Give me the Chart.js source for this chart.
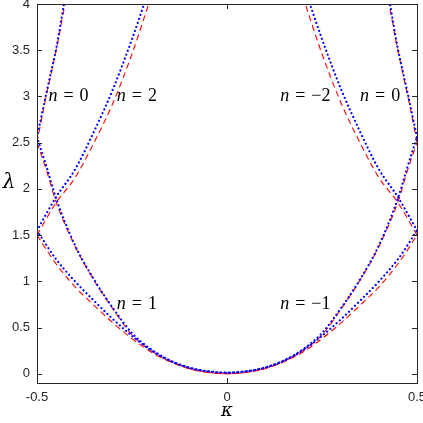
<!DOCTYPE html>
<html><head><meta charset="utf-8">
<script src="https://cdn.jsdelivr.net/npm/chart.js@4/dist/chart.umd.min.js"></script>
<style>html,body{margin:0;padding:0;background:#fff}#wrap{width:423px;height:423px}</style>
</head><body><div id="wrap"><canvas id="c" width="423" height="423"></canvas></div>
<script>
// ---- data ----
const kGrid = [-0.5,-0.475,-0.45,-0.4,-0.35,-0.3,-0.25,-0.2,-0.15,-0.1,-0.05,0,0.05,0.1,0.15,0.2,0.25,0.3,0.35,0.4,0.45,0.475,0.5];
const redLow  = [1.5,1.34,1.19,0.94,0.74,0.55,0.38,0.235,0.13,0.055,0.014,0,0.014,0.055,0.13,0.235,0.38,0.55,0.74,0.94,1.19,1.34,1.5];
const redUp   = [2.5,2.2,1.86,1.38,1.01,0.7,0.42,0.25,0.135,0.058,0.015,0,0.015,0.058,0.135,0.25,0.42,0.7,1.01,1.38,1.86,2.2,2.5];
const blueLow = [1.55,1.39,1.24,1.0,0.79,0.59,0.41,0.255,0.14,0.065,0.025,0.012,0.025,0.065,0.14,0.255,0.41,0.59,0.79,1.0,1.24,1.39,1.55];
const blueUp  = [2.56,2.24,1.9,1.39,1.02,0.71,0.44,0.265,0.145,0.068,0.027,0.012,0.027,0.068,0.145,0.265,0.44,0.71,1.02,1.39,1.9,2.24,2.56];

const kRedN2L = [-0.5,-0.45,-0.4,-0.35,-0.3,-0.25,-0.206];
const lRedN2L = [1.5,1.85,2.12,2.5,2.93,3.46,4.0];
const kRedN2R = [0.5,0.45,0.4,0.35,0.3,0.25,0.206];
const lRedN2R = [1.5,1.85,2.12,2.5,2.93,3.46,4.0];
const kBlueN2L = [-0.5,-0.45,-0.4,-0.35,-0.3,-0.25,-0.218];
const lBlueN2L = [1.55,1.91,2.21,2.62,3.08,3.62,4.0];
const kBlueN2R = [0.5,0.45,0.4,0.35,0.3,0.25,0.218];
const lBlueN2R = [1.55,1.91,2.21,2.62,3.08,3.62,4.0];

const kRedN0L = [-0.5,-0.483,-0.466,-0.448,-0.431,-0.426];
const lRedN0L = [2.5,2.86,3.19,3.53,3.9,4.0];
const kRedN0R = [0.5,0.483,0.466,0.448,0.431,0.426];
const lRedN0R = [2.5,2.86,3.19,3.53,3.9,4.0];
const kBlueN0L = [-0.5,-0.483,-0.466,-0.448,-0.429];
const lBlueN0L = [2.56,2.89,3.21,3.55,4.0];
const kBlueN0R = [0.5,0.483,0.466,0.448,0.429];
const lBlueN0R = [2.56,2.89,3.21,3.55,4.0];

const xTicks = [-0.5,0,0.5];
const yTicks = [0,0.5,1,1.5,2,2.5,3,3.5,4];
const nLabels = [
  {k:-0.47, l:3, t:'0'}, {k:-0.29, l:3, t:'2'},
  {k:0.14, l:3, t:'\u22122'}, {k:0.35, l:3, t:'0'},
  {k:-0.29, l:0.75, t:'1'}, {k:0.14, l:0.75, t:'\u22121'}
];

// ---- build datasets ----
const pts = (ks, ls) => ks.map((k,i)=>({x:k, y:ls[i]}));
const blueStyle = {borderColor:'#0000ff', borderWidth:2.2, borderDash:[0.01,4.2], borderCapStyle:'round', pointRadius:0, fill:false, cubicInterpolationMode:'monotone'};
const redStyle = {borderColor:'#ff0000', borderWidth:1.1, borderDash:[6,4], pointRadius:0, fill:false, cubicInterpolationMode:'monotone'};
const datasets = [
  Object.assign({data:pts(kGrid, blueLow)}, blueStyle),
  Object.assign({data:pts(kGrid, blueUp)}, blueStyle),
  Object.assign({data:pts(kBlueN2L, lBlueN2L)}, blueStyle),
  Object.assign({data:pts(kBlueN2R, lBlueN2R)}, blueStyle),
  Object.assign({data:pts(kBlueN0L, lBlueN0L)}, blueStyle),
  Object.assign({data:pts(kBlueN0R, lBlueN0R)}, blueStyle),
  Object.assign({data:pts(kGrid, redLow)}, redStyle),
  Object.assign({data:pts(kGrid, redUp)}, redStyle),
  Object.assign({data:pts(kRedN2L, lRedN2L)}, redStyle),
  Object.assign({data:pts(kRedN2R, lRedN2R)}, redStyle),
  Object.assign({data:pts(kRedN0L, lRedN0L)}, redStyle),
  Object.assign({data:pts(kRedN0R, lRedN0R)}, redStyle)
];

const axisColor = '#262626';
const decor = {
  id:'decor',
  afterDatasetsDraw(chart){
    const {ctx, chartArea:a, scales:{x, y}} = chart;
    ctx.save();
    ctx.strokeStyle = axisColor; ctx.lineWidth = 1;
    ctx.strokeRect(Math.round(a.left)+0.5, Math.round(a.top)+0.5, Math.round(a.right-a.left), Math.round(a.bottom-a.top));
    const tl = 5;
    ctx.beginPath();
    xTicks.forEach(v=>{const p=Math.round(x.getPixelForValue(v))+0.5;
      ctx.moveTo(p,a.bottom); ctx.lineTo(p,a.bottom-tl); ctx.moveTo(p,a.top); ctx.lineTo(p,a.top+tl);});
    yTicks.forEach(v=>{const p=Math.round(y.getPixelForValue(v))+0.5;
      ctx.moveTo(a.left,p); ctx.lineTo(a.left+tl,p); ctx.moveTo(a.right,p); ctx.lineTo(a.right-tl,p);});
    ctx.stroke();
    ctx.fillStyle = axisColor;
    ctx.font = '13px "Liberation Sans", Arial, sans-serif';
    ctx.textAlign='right'; ctx.textBaseline='middle';
    yTicks.forEach(v=>ctx.fillText(String(v), a.left-7, y.getPixelForValue(v)));
    ctx.textAlign='center'; ctx.textBaseline='middle';
    xTicks.forEach(v=>ctx.fillText(String(v), x.getPixelForValue(v), a.bottom+14));
    // axis titles
    ctx.fillStyle='#000';
    ctx.font = 'italic 18px "DejaVu Serif", serif';
    ctx.textAlign='center'; ctx.textBaseline='middle';
    ctx.fillText('\u03ba', x.getPixelForValue(0), 411);
    ctx.font = 'italic 20px "DejaVu Serif", serif';
    ctx.fillText('\u03bb', 9, 183);
    // n labels
    nLabels.forEach(o=>{
      let px = x.getPixelForValue(o.k), py = y.getPixelForValue(o.l);
      ctx.textAlign='left'; ctx.textBaseline='middle';
      ctx.font = 'italic 18px "Liberation Serif", serif';
      ctx.fillText('n', px, py);
      px += ctx.measureText('n').width + 6;
      ctx.font = '18px "Liberation Serif", serif';
      ctx.fillText('=', px, py);
      px += ctx.measureText('=').width + 6;
      ctx.fillText(o.t, px, py);
    });
    ctx.restore();
  }
};

new Chart(document.getElementById('c'), {
  type:'line',
  data:{datasets},
  options:{
    responsive:false, animation:false, devicePixelRatio:1,
    layout:{padding:{top:4, right:6, left:0, bottom:0}},
    plugins:{legend:{display:false}, tooltip:{enabled:false}},
    scales:{
      x:{type:'linear', min:-0.5, max:0.5,
        grid:{display:false, drawTicks:false}, border:{display:false},
        ticks:{display:false},
        afterFit(s){ s.height = 40; }},
      y:{type:'linear', min:-0.1, max:4,
        grid:{display:false, drawTicks:false}, border:{display:false},
        ticks:{display:false},
        afterFit(s){ s.width = 37; }}
    }
  },
  plugins:[decor]
});
</script></body></html>
